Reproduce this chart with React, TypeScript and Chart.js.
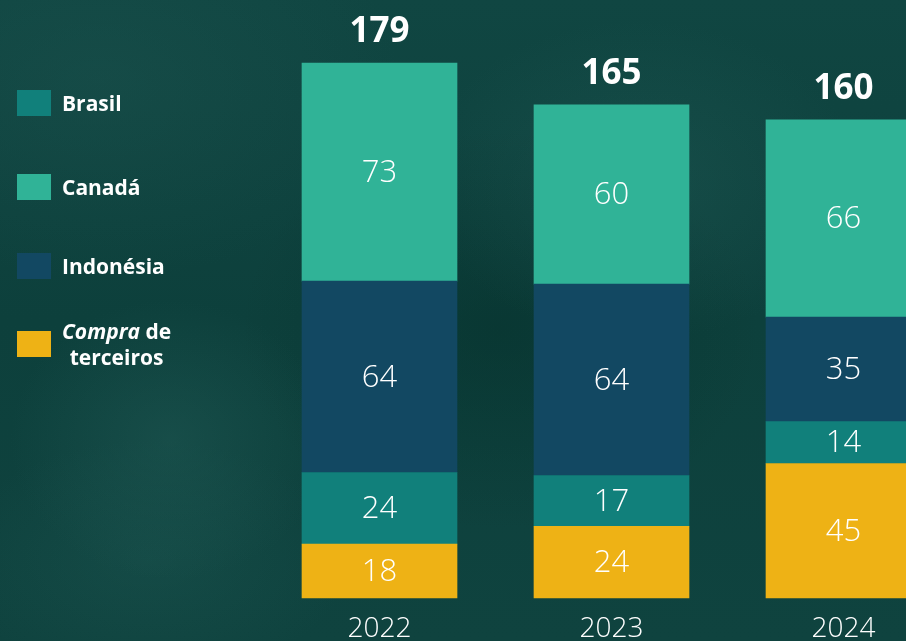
import React, { useEffect, useRef } from "react";
import { Chart, registerables } from "chart.js";

Chart.register(...registerables);

const years = ["2022", "2023", "2024"];
const compraValues = [18, 24, 45];
const brasilValues = [24, 17, 14];
const indonesiaValues = [64, 64, 35];
const canadaValues = [73, 60, 66];
const totalValues = [179, 165, 160];

const COLORS = {
  compra: "#EEB215",
  brasil: "#11807B",
  indonesia: "#124862",
  canada: "#30B397",
};

const valueLabels = {
  id: "valueLabels",
  afterDatasetsDraw(chart: any) {
    const ctx = chart.ctx;
    ctx.save();
    ctx.fillStyle = "#ffffff";
    ctx.textAlign = "center";
    ctx.textBaseline = "middle";
    ctx.font = "300 31px 'Open Sans'";
    chart.data.datasets.forEach((ds: any, di: number) => {
      const meta = chart.getDatasetMeta(di);
      meta.data.forEach((bar: any, i: number) => {
        const p = bar.getProps(["x", "y", "base"], true);
        ctx.fillText(String(ds.data[i]), p.x, (p.y + p.base) / 2 + 1);
      });
    });
    const last = chart.getDatasetMeta(chart.data.datasets.length - 1);
    ctx.font = "700 35px 'Open Sans'";
    last.data.forEach((bar: any, i: number) => {
      const p = bar.getProps(["x", "y"], true);
      ctx.fillText(String(totalValues[i]), p.x, p.y - 31);
    });
    ctx.restore();
  },
};

function LegendItem({ color, top, children }: { color: string; top: number; children: React.ReactNode }) {
  return (
    <div style={{ position: "absolute", left: 17, top, display: "flex", alignItems: "center" }}>
      <div style={{ width: 34, height: 26, background: color, flex: "0 0 auto" }} />
      <div
        style={{
          marginLeft: 11,
          color: "#fff",
          fontFamily: "'Open Sans', sans-serif",
          fontWeight: 700,
          fontSize: 21,
          lineHeight: "26px",
          textAlign: "center",
          whiteSpace: "nowrap",
        }}
      >
        {children}
      </div>
    </div>
  );
}

export default function App() {
  const canvasRef = useRef<HTMLCanvasElement | null>(null);

  useEffect(() => {
    if (!canvasRef.current) return;
    const chart = new Chart(canvasRef.current, {
      type: "bar",
      data: {
        labels: years,
        datasets: [
          { label: "Compra de terceiros", data: compraValues, backgroundColor: COLORS.compra, clip: false } as any,
          { label: "Brasil", data: brasilValues, backgroundColor: COLORS.brasil, clip: false } as any,
          { label: "Indonésia", data: indonesiaValues, backgroundColor: COLORS.indonesia, clip: false } as any,
          { label: "Canadá", data: canadaValues, backgroundColor: COLORS.canada, clip: false } as any,
        ],
      },
      options: {
        responsive: false,
        animation: false,
        devicePixelRatio: 1,
        layout: { padding: { left: 379.5, right: 62.5, top: 63, bottom: 0 } },
        datasets: { bar: { barThickness: 155, borderWidth: 0 } } as any,
        plugins: {
          legend: { display: false },
          tooltip: { enabled: false },
        },
        scales: {
          x: {
            stacked: true,
            offset: false,
            grid: { display: false, drawTicks: false },
            border: { display: false },
            ticks: {
              color: "#ffffff",
              padding: 14,
              font: { family: "'Open Sans'", size: 28, weight: 300 as any },
              maxRotation: 0,
            },
            afterFit: (scale: any) => {
              scale.height = 43;
            },
          },
          y: {
            stacked: true,
            display: false,
            min: 0,
            max: 179,
          },
        },
      },
      plugins: [valueLabels],
    });
    return () => chart.destroy();
  }, []);

  const bg =
    "radial-gradient(ellipse 160px 140px at 170px 440px, rgba(40,100,95,0.35), rgba(0,0,0,0) 100%)," +
    "radial-gradient(ellipse 220px 160px at 640px 180px, rgba(40,100,95,0.30), rgba(0,0,0,0) 100%)," +
    "radial-gradient(ellipse 200px 120px at 150px 560px, rgba(35,95,90,0.30), rgba(0,0,0,0) 100%)," +
    "radial-gradient(ellipse 260px 200px at 500px 330px, rgba(4,45,40,0.45), rgba(0,0,0,0) 100%)," +
    "radial-gradient(ellipse 300px 200px at 100px 80px, rgba(35,90,86,0.30), rgba(0,0,0,0) 100%)," +
    "linear-gradient(180deg, #104642 0%, #0d403c 50%, #0f433f 100%)";

  return (
    <div
      style={{
        position: "absolute",
        left: 0,
        top: 0,
        width: 906,
        height: 641,
        overflow: "hidden",
        background: bg,
      }}
    >
      <canvas
        ref={canvasRef}
        width={906}
        height={641}
        style={{ position: "absolute", left: 0, top: 0, width: 906, height: 641, display: "block" }}
      />
      <LegendItem color={COLORS.brasil} top={90}>Brasil</LegendItem>
      <LegendItem color={COLORS.canada} top={174}>Canadá</LegendItem>
      <LegendItem color={COLORS.indonesia} top={253}>Indonésia</LegendItem>
      <div style={{ position: "absolute", left: 17, top: 331, width: 34, height: 26, background: COLORS.compra }} />
      <div
        style={{
          position: "absolute",
          left: 62,
          top: 318,
          color: "#fff",
          fontFamily: "'Open Sans', sans-serif",
          fontWeight: 700,
          fontSize: 21,
          lineHeight: "26px",
          textAlign: "center",
          whiteSpace: "nowrap",
        }}
      >
        <i>Compra</i> de
        <br />
        terceiros
      </div>
    </div>
  );
}
